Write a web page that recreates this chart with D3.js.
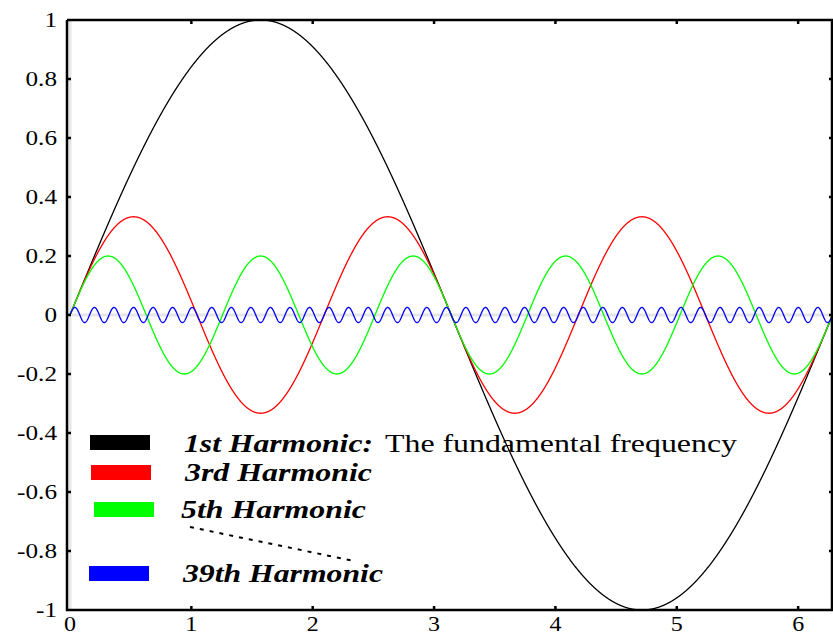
<!DOCTYPE html>
<html>
<head>
<meta charset="utf-8">
<script src="https://cdn.jsdelivr.net/npm/d3@7"></script>
<style>
  html, body { margin: 0; padding: 0; background: #fff; }
  svg { display: block; }
  text { font-family: "Liberation Serif", "Times New Roman", serif; }
</style>
</head>
<body>
<svg id="chart" width="833" height="636"></svg>
<script>
// Odd harmonics of a square wave: harmonic number and its amplitude (1/n)
const harmonics = [1, 3, 5, 39];
const amplitudes = [1, 0.333, 0.2, 0.0256];
const legendNames = ["1st Harmonic:", "3rd Harmonic", "5th Harmonic", "39th Harmonic"];
const legendNote = "The fundamental frequency";
const xTicks = [0, 1, 2, 3, 4, 5, 6];
const yTicks = [-1, -0.8, -0.6, -0.4, -0.2, 0, 0.2, 0.4, 0.6, 0.8, 1];
const xDomain = [0, 2 * Math.PI];
const yDomain = [-1, 1];

const colors = ["#000000", "#ff0000", "#00ff00", "#0000ff"];

const svg = d3.select("#chart");
const frameL = 67, frameR = 833, frameT = 20, frameB = 610;

const x = d3.scaleLinear().domain(xDomain).range([70, 832.5]);
const y = d3.scaleLinear().domain(yDomain).range([frameB, frameT]);

// light zero lines
svg.append("line")
  .attr("x1", frameL).attr("x2", frameR)
  .attr("y1", y(0)).attr("y2", y(0))
  .attr("stroke", "#e6e6e6").attr("stroke-width", 3);
svg.append("line")
  .attr("x1", x(0)).attr("x2", x(0))
  .attr("y1", frameT).attr("y2", frameB)
  .attr("stroke", "#e6e6e6").attr("stroke-width", 3);

// curves, clipped to the plot frame
svg.append("clipPath").attr("id", "plotClip")
  .append("rect").attr("x", frameL).attr("y", frameT - 1)
  .attr("width", frameR - frameL).attr("height", frameB - frameT + 2);

const plot = svg.append("g").attr("clip-path", "url(#plotClip)");
const samples = d3.range(0, 4001).map(i => xDomain[0] + (xDomain[1] - xDomain[0]) * i / 4000);
const line = d3.line().x(d => x(d[0])).y(d => y(d[1]));

harmonics.forEach((n, i) => {
  const pts = samples.map(t => [t, amplitudes[i] * Math.sin(n * t)]);
  plot.append("path")
    .attr("d", line(pts))
    .attr("fill", "none")
    .attr("stroke", colors[i])
    .attr("stroke-width", 1.3);
});

// frame
const frame = svg.append("g").attr("stroke", "#000").attr("stroke-width", 2.5).attr("fill", "none");
frame.append("path").attr("d", `M${frameL},${frameT} H${frameR + 2} M${frameL},${frameT} V${frameB} H${frameR + 2} M832,${frameT} V${frameB}`);

// ticks on all four sides
const tickLen = 4;
const tg = svg.append("g").attr("stroke", "#000").attr("stroke-width", 2.5);
xTicks.forEach(v => {
  if (v === 0) return;
  tg.append("line").attr("x1", x(v)).attr("x2", x(v)).attr("y1", frameB).attr("y2", frameB - tickLen);
  tg.append("line").attr("x1", x(v)).attr("x2", x(v)).attr("y1", frameT).attr("y2", frameT + tickLen);
});
yTicks.forEach(v => {
  if (v === 1 || v === -1) return;
  tg.append("line").attr("x1", frameL).attr("x2", frameL + tickLen).attr("y1", y(v)).attr("y2", y(v));
  tg.append("line").attr("x1", 833).attr("x2", 833 - tickLen).attr("y1", y(v)).attr("y2", y(v));
});

// tick labels (slightly widened serif)
const fmt = v => String(Math.round(v * 10) / 10);
const widen = 1.2;
svg.append("g").selectAll("text").data(xTicks).join("text")
  .attr("transform", d => `translate(${x(d)},631) scale(${widen},1)`)
  .attr("text-anchor", "middle").attr("font-size", 20)
  .text(fmt);
svg.append("g").selectAll("text").data(yTicks).join("text")
  .attr("transform", d => `translate(57,${y(d) + 7}) scale(${widen},1)`)
  .attr("text-anchor", "end").attr("font-size", 21)
  .text(fmt);

// legend
const swatches = [
  { x: 90, y: 435 }, { x: 91, y: 465 }, { x: 94, y: 502 }, { x: 89, y: 566 }
];
const labelPos = [
  { x: 184, y: 452, w: 189 }, { x: 185, y: 481, w: 187 },
  { x: 181, y: 518, w: 185 }, { x: 183, y: 582, w: 200 }
];
const lg = svg.append("g");
harmonics.forEach((n, i) => {
  lg.append("rect")
    .attr("x", swatches[i].x).attr("y", swatches[i].y)
    .attr("width", 60).attr("height", 15)
    .attr("fill", colors[i]);
  lg.append("text")
    .attr("x", labelPos[i].x).attr("y", labelPos[i].y)
    .attr("font-size", 25)
    .attr("font-weight", "bold").attr("font-style", "italic")
    .attr("textLength", labelPos[i].w).attr("lengthAdjust", "spacingAndGlyphs")
    .text(legendNames[i]);
});
lg.append("text")
  .attr("x", 385).attr("y", 452)
  .attr("font-size", 25)
  .attr("textLength", 352).attr("lengthAdjust", "spacingAndGlyphs")
  .text(legendNote);

// dotted connector between the 5th and 39th entries
lg.append("line")
  .attr("x1", 190).attr("y1", 527).attr("x2", 354).attr("y2", 561)
  .attr("stroke", "#000").attr("stroke-width", 2)
  .attr("stroke-dasharray", "4,6");
</script>
</body>
</html>
